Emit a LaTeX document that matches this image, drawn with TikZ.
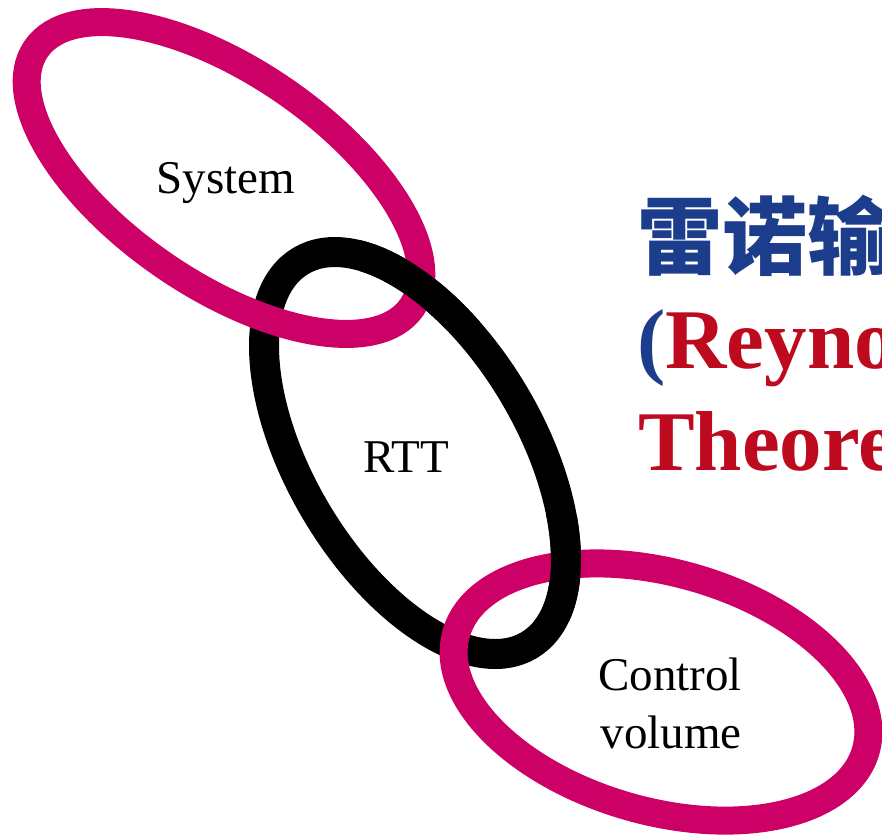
\documentclass[tikz,border=0pt]{standalone}
\usepackage{fontspec}
\setmainfont{Liberation Serif}
\newfontfamily\cjk{Noto Sans CJK SC}
\definecolor{ringmag}{RGB}{204,0,102}
\definecolor{titleblue}{RGB}{28,60,140}
\definecolor{titlered}{RGB}{190,10,30}
\begin{document}
\begin{tikzpicture}[x=1pt,y=-1pt,
  magring/.style={draw=ringmag,line width=28pt},
  blkring/.style={draw=black,line width=30pt},
  lbl/.style={font=\fontsize{47}{58}\selectfont, inner sep=0pt, anchor=base},
  ttl/.style={font=\fontsize{85}{100}\selectfont\bfseries, inner sep=0pt, anchor=base west}]
\useasboundingbox (0,0) rectangle (882,839);
\clip (0,0) rectangle (882,839);
% black ring (RTT)
\path[blkring, shift={(415,453)}, rotate=-59.3] (0,0) ellipse [x radius=223.5, y radius=115];
% magenta rings
\path[magring, shift={(224,178)}, rotate=-34.5] (0,0) ellipse [x radius=228, y radius=106];
\path[magring, shift={(661,692)}, rotate=-16] (0,0) ellipse [x radius=213, y radius=119];
% black over magenta at the right-hand crossings
\begin{scope}
  \clip (360,215) rectangle (480,330);
  \path[blkring, shift={(415,453)}, rotate=-59.3] (0,0) ellipse [x radius=223.5, y radius=115];
\end{scope}
\begin{scope}
  \clip (520,515) rectangle (615,620);
  \path[blkring, shift={(415,453)}, rotate=-59.3] (0,0) ellipse [x radius=223.5, y radius=115];
\end{scope}
% labels
\node[lbl] (sys) at (226,193) {System};
\node[lbl] (rtt) at (406,472) {RTT};
\node[lbl] (cv1) at (670,690) {Control};
\node[lbl] (cv2) at (671,748) {volume};
% title (cut at the right edge, as in the reference)
\node[ttl, text=titleblue] (t1) at (637,268) {\cjk\bfseries 雷诺输};
\node[ttl] (t2) at (637,368) {\textcolor{titleblue}{(}\textcolor{titlered}{Reyno}};
\node[ttl, text=titlered] (t3) at (638,470) {Theore};
\end{tikzpicture}
\end{document}
